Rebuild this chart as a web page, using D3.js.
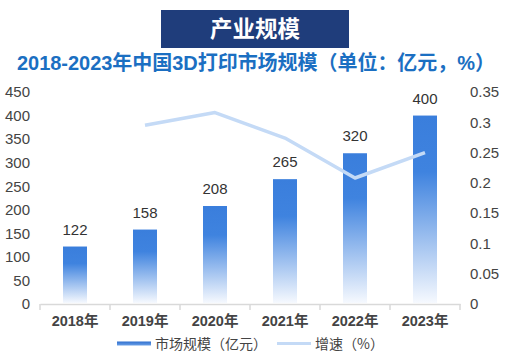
<!DOCTYPE html>
<html><head><meta charset="utf-8">
<script src="https://cdn.jsdelivr.net/npm/d3@7"></script>
<style>body{margin:0;background:#fff}svg{display:block}</style>
</head><body>
<svg id="c" width="507" height="357"></svg>
<script>
const categories = ["2018年","2019年","2020年","2021年","2022年","2023年"];
const marketSize = [122,158,208,265,320,400];
const growth = [null,0.295,0.316,0.274,0.208,0.25];
const leftTicks = [0,50,100,150,200,250,300,350,400,450];
const rightTicks = [0,0.05,0.1,0.15,0.2,0.25,0.3,0.35];
const titleText = "产业规模";
const subtitleText = "2018-2023年中国3D打印市场规模（单位：亿元，%）";
const legendNames = ["市场规模（亿元）","增速（%）"];

const svg = d3.select("#c");
const margin = {left:40,right:47,top:92,bottom:53};
const W = 507, H = 357;
const x = d3.scaleBand().domain(categories).range([margin.left, W-margin.right]);
const y = d3.scaleLinear().domain([0,450]).range([H-margin.bottom, margin.top]);
const y2 = d3.scaleLinear().domain([0,0.35]).range([H-margin.bottom, margin.top]);

const defs = svg.append("defs");
const g = defs.append("linearGradient").attr("id","barGrad").attr("x1",0).attr("y1",0).attr("x2",0).attr("y2",1);
g.append("stop").attr("offset","0").attr("stop-color","#3a7edc");
g.append("stop").attr("offset","0.3").attr("stop-color","#3f83df");
g.append("stop").attr("offset","1").attr("stop-color","#f6f9fe");
const lg = defs.append("linearGradient").attr("id","legGrad").attr("x1",0).attr("y1",0).attr("x2",0).attr("y2",1);
lg.append("stop").attr("offset","0").attr("stop-color","#2f6fcf");
lg.append("stop").attr("offset","1").attr("stop-color","#6a9fe6");

// title box
svg.append("rect").attr("x",161).attr("y",10).attr("width",188).attr("height",38).attr("fill","#1f3d7b");
svg.append("text").attr("x",255).attr("y",37).attr("text-anchor","middle")
  .attr("font-family","Noto Sans CJK SC").attr("font-weight",700).attr("font-size",22.5).attr("fill","#fff").text(titleText);
svg.append("text").attr("x",17).attr("y",69.5)
  .attr("font-family","Liberation Sans, Noto Sans CJK SC").attr("font-weight",700).attr("font-size",20)
  .attr("textLength",478).attr("lengthAdjust","spacing")
  .attr("fill","#1b6fc2").text(subtitleText);

// axes
const font = "Liberation Sans, Arial, sans-serif";
const axL = svg.append("g").attr("transform",`translate(${margin.left},0)`)
  .call(d3.axisLeft(y).tickValues(leftTicks).tickSize(0).tickPadding(10));
axL.select(".domain").remove();
axL.selectAll("text").attr("font-family",font).attr("font-size",15).attr("fill","#444");
const axR = svg.append("g").attr("transform",`translate(${W-margin.right},0)`)
  .call(d3.axisRight(y2).tickValues(rightTicks).tickSize(0).tickPadding(10).tickFormat(d=>String(+d.toFixed(2))));
axR.select(".domain").remove();
axR.selectAll("text").attr("font-family",font).attr("font-size",15).attr("fill","#444");

const axB = svg.append("g").attr("transform",`translate(0,${H-margin.bottom})`)
  .call(d3.axisBottom(x).tickSize(0).tickPadding(12));
axB.select(".domain").attr("stroke","#d9d9d9").attr("stroke-width",1.5);
axB.selectAll("text").attr("font-family","Liberation Sans, Noto Sans CJK SC").attr("font-weight",700).attr("font-size",14.5).attr("fill","#444");
// boundary ticks
const bounds = categories.map(c=>x(c)).concat([x(categories[categories.length-1])+x.bandwidth()]);
svg.append("g").selectAll("line").data(bounds).join("line")
  .attr("x1",d=>d).attr("x2",d=>d).attr("y1",H-margin.bottom).attr("y2",H-margin.bottom+6)
  .attr("stroke","#d9d9d9").attr("stroke-width",1.5);

// bars
const bw = 24;
svg.append("g").selectAll("rect").data(marketSize).join("rect")
  .attr("x",(d,i)=>x(categories[i])+x.bandwidth()/2-bw/2)
  .attr("y",d=>y(d)).attr("width",bw).attr("height",d=>y(0)-y(d)-1)
  .attr("fill","url(#barGrad)");
svg.append("g").selectAll("text").data(marketSize).join("text")
  .attr("x",(d,i)=>x(categories[i])+x.bandwidth()/2).attr("y",d=>y(d)-12)
  .attr("text-anchor","middle").attr("font-family",font).attr("font-size",15).attr("fill","#333")
  .text(d=>d);

// line
const line = d3.line().defined(d=>d.v!=null).x(d=>x(d.c)+x.bandwidth()/2).y(d=>y2(d.v));
svg.append("path").datum(categories.map((c,i)=>({c,v:growth[i]})))
  .attr("d",line).attr("fill","none").attr("stroke","#c4daf6").attr("stroke-width",3.5)
  .attr("stroke-linejoin","round");

// legend
svg.append("rect").attr("x",117).attr("y",341.5).attr("width",34).attr("height",4).attr("fill","url(#legGrad)");
svg.append("text").attr("x",155).attr("y",349).attr("font-family","Noto Sans CJK SC").attr("font-size",14).attr("fill","#444").text(legendNames[0]);
svg.append("line").attr("x1",277).attr("x2",311).attr("y1",343.5).attr("y2",343.5).attr("stroke","#c4daf6").attr("stroke-width",3);
svg.append("text").attr("x",315).attr("y",349).attr("font-family","Noto Sans CJK SC").attr("font-size",14).attr("fill","#444").text(legendNames[1]);
</script>
</body></html>
